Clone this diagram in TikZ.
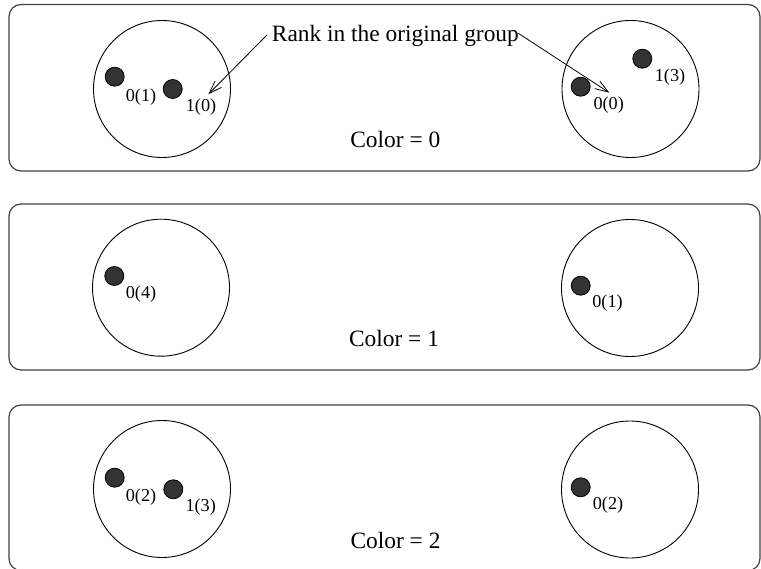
\documentclass[tikz,border=0pt]{standalone}
\usepackage{fontspec}
\setmainfont{Liberation Serif}
\usetikzlibrary{arrows.meta}
\begin{document}
\begin{tikzpicture}[x=1pt,y=-1pt,
  panel/.style={draw=black!75, line width=1.2pt, rounded corners=12pt},
  grp/.style={circle, draw, line width=0.9pt, minimum size=137pt, inner sep=0pt},
  proc/.style={circle, draw, fill=black!80, line width=0.8pt, minimum size=19pt, inner sep=0pt},
  lbl/.style={inner sep=0pt, font=\fontsize{18.2}{20}\selectfont},
  big/.style={inner sep=0pt, font=\fontsize{23.4}{27}\selectfont, anchor=base},
  ptr/.style={-{Straight Barb[length=13pt,width=9pt]}, line width=0.8pt}]
\useasboundingbox (0,0) rectangle (761,569);

% panels
\draw[panel] (9,4.5) rectangle (760,171);
\draw[panel] (9,204) rectangle (760,370);
\draw[panel] (9,405) rectangle (760,570.5);

% ---- Color = 0
\node[grp] (g0a) at (162,89) {};
\node[grp] (g0b) at (630.5,89) {};
\node[proc] (d0a1) at (114.7,76.7) {};
\node[lbl] (l0a1) at (141,96.7) {0(1)};
\node[proc] (d0a2) at (172.7,89) {};
\node[lbl] (l0a2) at (201,106.7) {1(0)};
\node[proc] (d0b1) at (580.7,86.7) {};
\node[lbl] (l0b1) at (608.7,105) {0(0)};
\node[proc] (d0b2) at (642.3,58.7) {};
\node[lbl] (l0b2) at (670,76.7) {1(3)};
\node[big] (c0) at (395.3,147.3) {Color = 0};

\node[inner sep=0pt, font=\fontsize{23.4}{27}\selectfont, anchor=base west] (rank) at (271.7,41.7) {Rank in the original group};
\coordinate (s1) at (267,35);
\coordinate (t1) at (208.3,94.3);
\coordinate (s2) at (518.3,33.3);
\coordinate (t2) at (609.3,92.7);
\draw[ptr] (s1) -- (t1);
\draw[ptr] (s2) -- (t2);

% ---- Color = 1
\node[grp] (g1a) at (161,287.7) {};
\node[grp] (g1b) at (630,288) {};
\node[proc] (d1a1) at (114.3,276) {};
\node[lbl] (l1a1) at (141,294.3) {0(4)};
\node[proc] (d1b1) at (580.7,285.7) {};
\node[lbl] (l1b1) at (607.5,303.3) {0(1)};
\node[big] (c1) at (394,346.7) {Color = 1};

% ---- Color = 2
\node[grp] (g2a) at (162,489) {};
\node[grp] (g2b) at (630,489.5) {};
\node[proc] (d2a1) at (114.7,477.7) {};
\node[lbl] (l2a1) at (141,497.3) {0(2)};
\node[proc] (d2a2) at (173.3,489.3) {};
\node[lbl] (l2a2) at (200.7,507.3) {1(3)};
\node[proc] (d2b1) at (580.7,487.3) {};
\node[lbl] (l2b1) at (608,505) {0(2)};
\node[big] (c2) at (395.5,548) {Color = 2};
\end{tikzpicture}
\end{document}
